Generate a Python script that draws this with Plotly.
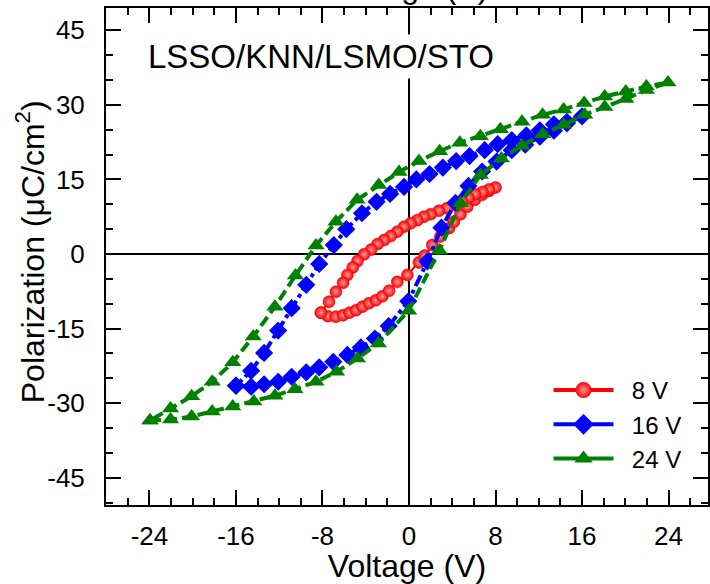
import plotly.graph_objects as go

# ---- data ----
red_v = [-8.14, -7.5, -6.76, -6.1, -5.5, -4.9, -4.3, -3.7, -3.07, -2.46, -1.84, -1.08, -0.15,
         0.92, 1.45, 2.15, 2.9, 3.7, 4.15, 4.76, 5.4, 6.1, 6.76, 7.4, 8.0,
         7.4, 6.8, 6.1, 5.5, 4.9, 4.2, 3.5, 2.76, 2.0, 1.38, 0.77, 0.15, -0.46, -1.08,
         -1.69, -2.3, -2.9, -3.5, -4.15, -4.76, -5.2, -5.7, -6.1, -6.76, -7.4, -8.14]
red_p = [-11.8, -12.5, -12.6, -12.3, -11.8, -11.3, -10.6, -9.9, -9.3, -8.5, -7.4, -5.6, -4.2,
         -1.7, -0.3, 1.8, 3.5, 5.2, 6.5, 8.0, 9.5, 10.9, 11.9, 12.7, 13.4,
         13.0, 12.5, 12.0, 11.3, 10.6, 9.9, 9.2, 8.7, 8.0, 7.5, 6.8, 6.2, 5.5, 4.5,
         3.6, 2.8, 2.0, 0.9, -0.07, -1.4, -2.7, -4.2, -5.8, -7.6, -9.6, -11.8]

blue_v = [-16.0, -14.6, -13.4, -12.1, -10.85, -9.5, -8.3, -7.0, -5.7, -4.45, -3.16, -1.88, -0.06,
          1.7, 3.0, 4.3, 5.5, 6.76, 8.1, 9.5, 10.75, 12.1, 13.4, 14.6, 16.0,
          14.6, 13.4, 12.1, 10.85, 9.5, 8.2, 7.0, 5.6, 4.36, 3.13, 1.9, 0.68, -0.46,
          -1.75, -3.0, -4.35, -5.8, -6.95, -8.3, -9.5, -10.85, -12.1, -13.4, -14.6, -16.0]
blue_p = [-26.5, -26.7, -26.2, -25.7, -24.7, -23.8, -22.8, -21.7, -20.3, -18.8, -17.0, -14.5, -9.5,
          -1.5, 5.3, 10.3, 13.7, 16.6, 18.6, 20.9, 22.0, 23.6, 24.8, 26.3, 27.7,
          26.6, 26.1, 24.9, 23.9, 22.9, 22.1, 20.9, 19.7, 18.7, 17.4, 16.1, 15.0, 13.5,
          12.1, 10.5, 8.2, 5.0, 1.8, -2.0, -6.2, -10.9, -15.4, -19.9, -23.5, -26.5]

green_v = [-23.95, -22.05, -20.1, -18.2, -16.3, -14.35, -12.4, -10.55, -8.6, -6.7, -4.76, -2.83, -0.03,
           2.8, 4.76, 6.6, 8.55, 10.45, 12.35, 14.3, 16.25, 18.1, 20.05, 21.95, 23.95,
           21.95, 20.05, 18.1, 16.2, 14.3, 12.35, 10.45, 8.45, 6.6, 4.7, 2.83, 0.92, -0.92,
           -2.8, -4.8, -6.76, -8.6, -10.5, -12.4, -14.4, -16.3, -18.2, -20.1, -22.05, -23.95]
green_p = [-33.5, -33.3, -32.7, -31.7, -30.7, -29.7, -28.5, -27.2, -25.7, -23.7, -21.0, -18.0, -11.4,
           0.7, 10.2, 15.9, 19.2, 21.8, 24.1, 26.0, 28.0, 29.6, 31.2, 33.0, 34.5,
           33.7, 32.7, 31.7, 30.4, 29.1, 28.0, 26.6, 25.1, 23.7, 22.4, 20.7, 18.7, 16.5,
           13.9, 10.9, 6.5, 1.7, -4.3, -10.6, -16.6, -21.8, -25.7, -28.6, -31.1, -33.5]

series_names = ["8 V", "16 V", "24 V"]
x_ticks = [-24, -16, -8, 0, 8, 16, 24]
y_ticks = [-45, -30, -15, 0, 15, 30, 45]

FONT = "Liberation Sans, Arial, sans-serif"
RED, BLUE, GREEN = "#ff0000", "#0000ff", "#008000"
NB = "\u00a0\u00a0"

fig = go.Figure()

fig.add_trace(go.Scatter(x=red_v, y=red_p, mode="lines+markers", showlegend=False,
                         line=dict(color=RED, width=2),
                         marker=dict(symbol="circle", size=12, color=RED,
                                     gradient=dict(type="radial", color="#ff9a9a"),
                                     line=dict(color="#e00000", width=0.5))))
fig.add_trace(go.Scatter(x=blue_v, y=blue_p, mode="lines+markers", showlegend=False,
                         line=dict(color=BLUE, width=4, dash="12px,4px,4px,4px"),
                         marker=dict(symbol="diamond", size=14, color=BLUE)))
fig.add_trace(go.Scatter(x=green_v, y=green_p, mode="lines+markers", showlegend=False,
                         line=dict(color=GREEN, width=4, dash="11px,5px"),
                         marker=dict(symbol="triangle-up", size=15, color=GREEN)))

# legend entries (solid line samples as in the reference)
fig.add_trace(go.Scatter(x=[None], y=[None], mode="lines+markers", name=NB + series_names[0],
                         line=dict(color=RED, width=4),
                         marker=dict(symbol="circle", size=16, color=RED,
                                     gradient=dict(type="radial", color="#ff9a9a"))))
fig.add_trace(go.Scatter(x=[None], y=[None], mode="lines+markers", name=NB + series_names[1],
                         line=dict(color=BLUE, width=4),
                         marker=dict(symbol="diamond", size=16, color=BLUE)))
fig.add_trace(go.Scatter(x=[None], y=[None], mode="lines+markers", name=NB + series_names[2],
                         line=dict(color=GREEN, width=4),
                         marker=dict(symbol="triangle-up", size=16, color=GREEN)))

axis_common = dict(showline=True, linecolor="black", linewidth=2, mirror="allticks",
                   ticks="inside", ticklen=15, tickwidth=1.5, tickcolor="black",
                   showgrid=False, zeroline=True, zerolinecolor="black", zerolinewidth=2,
                   tickfont=dict(family=FONT, size=26, color="black"))

fig.update_xaxes(range=[-28.02, 27.65], tickvals=x_ticks, ticktext=[str(t) for t in x_ticks],
                 minor=dict(dtick=2, ticklen=7, tickwidth=1.5, tickcolor="black", ticks="inside"),
                 ticklabelstandoff=7,
                 title=dict(text="Voltage (V)", font=dict(family=FONT, size=32, color="black"),
                            standoff=3),
                 **axis_common)
fig.update_yaxes(range=[-50.5, 49.5], tickvals=y_ticks, ticktext=[str(t) for t in y_ticks],
                 minor=dict(dtick=5, ticklen=7, tickwidth=1.5, tickcolor="black", ticks="inside"),
                 ticklabelstandoff=14,
                 **axis_common)

# y-axis title
fig.add_annotation(text="Polarization (\u03bcC/cm<sup>2</sup>)", xref="paper", yref="paper",
                   x=(30 - 106) / 604, y=1 - (252 - 8) / 497, xanchor="center", yanchor="middle",
                   textangle=-90, showarrow=False,
                   font=dict(family=FONT, size=32, color="black"))
fig.add_annotation(text="LSSO/KNN/LSMO/STO", xref="paper", yref="paper",
                   x=(144 - 106) / 604, y=1 - (57 - 8) / 497, xanchor="left", yanchor="middle",
                   showarrow=False, bgcolor="white", borderpad=3,
                   font=dict(family=FONT, size=33, color="black"))
# top axis title, mostly outside the picture
fig.add_annotation(text="Voltage (V)", xref="paper", yref="paper",
                   x=(410 - 106) / 604, y=1 + (8 - 7) / 497, xanchor="center", yanchor="bottom",
                   showarrow=False, font=dict(family=FONT, size=32, color="black"))

fig.update_layout(
    width=710, height=584,
    margin=dict(l=106, r=0, t=8, b=79),
    paper_bgcolor="white", plot_bgcolor="white",
    font=dict(family=FONT, color="black"),
    legend=dict(x=(550 - 106) / 604, y=1 - (368 - 8) / 497, xanchor="left", yanchor="top",
                bgcolor="rgba(0,0,0,0)", font=dict(family=FONT, size=24, color="black"),
                itemwidth=60, tracegroupgap=0),
)

fig.write_html("out.html")
